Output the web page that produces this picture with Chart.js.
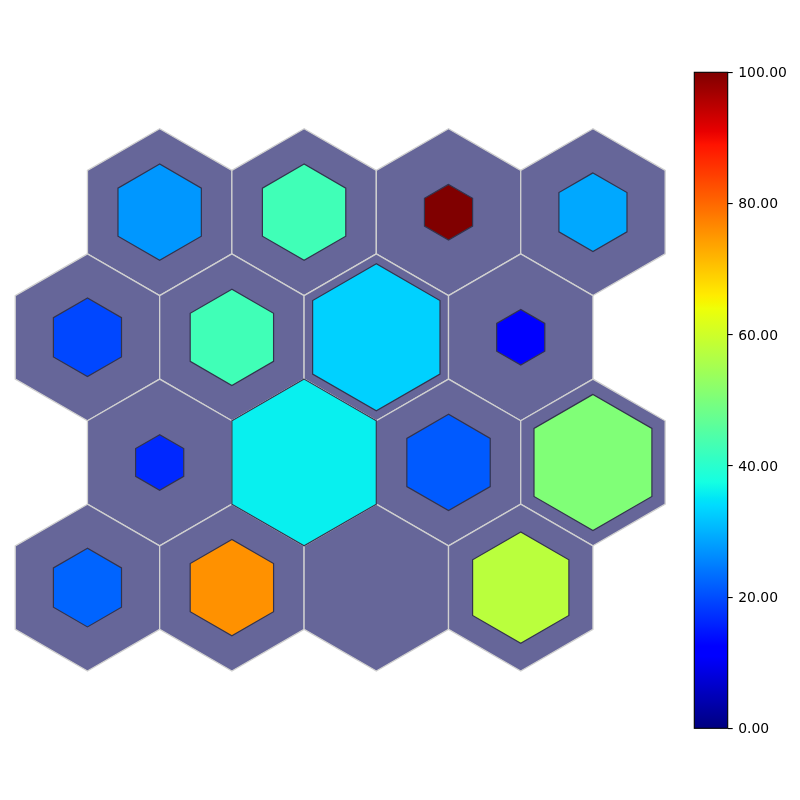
<!DOCTYPE html>
<html>
<head>
<meta charset="utf-8">
<script src="https://cdn.jsdelivr.net/npm/chart.js@4/dist/chart.umd.min.js"></script>
<style>
  html, body { margin: 0; padding: 0; background: #ffffff; }
  #wrap { width: 800px; height: 800px; }
</style>
</head>
<body>
<div id="wrap"><canvas id="c" width="800" height="800"></canvas></div>
<script>
// ---- data (rows listed top to bottom, 4 columns each) ----
const nodeValues = [
  [27.3, 42.8, 100.0, 29.0],
  [19.5, 42.8, 33.0, 11.8],
  [16.4, 36.0, 21.3, 50.5],
  [22.3, 75.7, null, 57.6]
];
const nodeCounts = [
  [3, 3, 1, 2],
  [2, 3, 7, 1],
  [1, 9, 3, 6],
  [2, 3, 0, 4]
];
const colorbarTicks = [0, 20, 40, 60, 80, 100];
const colorbarMin = 0;
const colorbarMax = 100;

// ---- jet colormap (matplotlib segment definition) ----
const JET = {
  r: [[0, 0], [0.35, 0], [0.66, 1], [0.89, 1], [1, 0.5]],
  g: [[0, 0], [0.125, 0], [0.375, 1], [0.64, 1], [0.91, 0], [1, 0]],
  b: [[0, 0.5], [0.11, 1], [0.34, 1], [0.65, 0], [1, 0]]
};
function seg(s, x) {
  if (x <= s[0][0]) return s[0][1];
  for (let i = 0; i < s.length - 1; i++) {
    if (x <= s[i + 1][0]) {
      const t = (x - s[i][0]) / (s[i + 1][0] - s[i][0]);
      return s[i][1] + t * (s[i + 1][1] - s[i][1]);
    }
  }
  return s[s.length - 1][1];
}
function jet(v) {
  const x = Math.max(0, Math.min(1, (v - colorbarMin) / (colorbarMax - colorbarMin)));
  const c = k => Math.round(255 * seg(JET[k], x));
  return `rgb(${c('r')},${c('g')},${c('b')})`;
}

// ---- build datasets from the arrays ----
const nRows = nodeValues.length;
const maxCount = Math.max(...nodeCounts.flat());
const bgPoints = [];
const nodePoints = [];
nodeValues.forEach((row, i) => {
  const r = nRows - 1 - i;             // row index from bottom
  row.forEach((v, j) => {
    const x = j + (r % 2 === 1 ? 0.5 : 0);
    const y = r * Math.sqrt(3) / 2;
    bgPoints.push({ x, y, s: 1 });
    const cnt = nodeCounts[i][j];
    if (cnt > 0 && v !== null) {
      nodePoints.push({ x, y, s: Math.sqrt(cnt / maxCount), v });
    }
  });
});

function hexPath(ctx, cx, cy, R) {
  ctx.beginPath();
  for (let k = 0; k < 6; k++) {
    const a = (90 + 60 * k) * Math.PI / 180;
    const px = cx + R * Math.cos(a);
    const py = cy - R * Math.sin(a);
    if (k === 0) ctx.moveTo(px, py); else ctx.lineTo(px, py);
  }
  ctx.closePath();
}

const hexPlugin = {
  id: 'hexPlugin',
  afterDatasetsDraw(chart) {
    const ctx = chart.ctx;
    const xs = chart.scales.x;
    const unit = Math.abs(xs.getPixelForValue(1) - xs.getPixelForValue(0));
    const Rfull = unit / Math.sqrt(3);
    chart.data.datasets.forEach((ds, di) => {
      const meta = chart.getDatasetMeta(di);
      meta.data.forEach((el, k) => {
        const raw = ds.data[k];
        const R = Rfull * raw.s;
        ctx.save();
        hexPath(ctx, el.x, el.y, R);
        ctx.fillStyle = ds.hexKind === 'bg' ? '#666699' : jet(raw.v);
        ctx.fill();
        ctx.lineWidth = ds.hexKind === 'bg' ? 1.3 : 1.2;
        ctx.strokeStyle = ds.hexKind === 'bg' ? '#d0d0d0' : '#33334d';
        ctx.lineJoin = 'miter';
        ctx.stroke();
        ctx.restore();
      });
    });
    // colorbar
    const cb = chart.scales.cb;
    const yTop = cb.getPixelForValue(colorbarMax);
    const yBot = cb.getPixelForValue(colorbarMin);
    const w = 33.4;
    const x0 = cb.left - w;
    const g = ctx.createLinearGradient(0, yBot, 0, yTop);
    for (let i = 0; i <= 200; i++) {
      const t = i / 200;
      g.addColorStop(t, jet(colorbarMin + t * (colorbarMax - colorbarMin)));
    }
    ctx.save();
    ctx.fillStyle = g;
    ctx.fillRect(x0, yTop, w, yBot - yTop);
    ctx.lineWidth = 1.1;
    ctx.strokeStyle = '#000000';
    ctx.strokeRect(x0, yTop, w, yBot - yTop);
    ctx.restore();
  }
};

new Chart(document.getElementById('c'), {
  type: 'scatter',
  data: {
    datasets: [
      { hexKind: 'bg', data: bgPoints, pointRadius: 0, pointHoverRadius: 0 },
      { hexKind: 'node', data: nodePoints, pointRadius: 0, pointHoverRadius: 0 }
    ]
  },
  options: {
    responsive: false,
    animation: false,
    events: [],
    layout: { padding: { top: 72.3, bottom: 71.7, left: 0, right: 0 } },
    plugins: { legend: { display: false }, tooltip: { enabled: false } },
    scales: {
      x: { type: 'linear', display: false, min: -0.6055, max: 4.433 },
      y: { type: 'linear', display: false, min: -0.9737, max: 3.5661 },
      cb: {
        type: 'linear',
        position: 'right',
        min: colorbarMin,
        max: colorbarMax,
        afterFit(scale) { scale.width = 72.3; },
        afterBuildTicks(scale) { scale.ticks = colorbarTicks.map(v => ({ value: v })); },
        ticks: {
          callback: v => Number(v).toFixed(2),
          color: '#000000',
          padding: 5.5,
          labelOffset: 1.2,
          font: { family: 'DejaVu Sans', size: 13.9 }
        },
        grid: {
          display: true,
          drawOnChartArea: false,
          drawTicks: true,
          tickLength: 5,
          color: '#000000',
          lineWidth: 1.1
        },
        border: { display: false }
      }
    }
  },
  plugins: [hexPlugin]
});
</script>
</body>
</html>
